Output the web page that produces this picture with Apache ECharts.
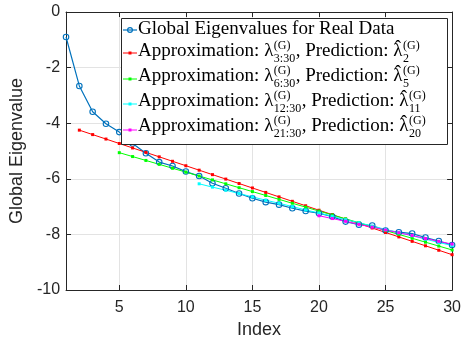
<!DOCTYPE html>
<html>
<head>
<meta charset="utf-8">
<script src="https://cdn.jsdelivr.net/npm/echarts@6/dist/echarts.min.js"></script>
<style>
  html, body { margin: 0; padding: 0; background: #fff; }
  #chart { width: 464px; height: 346px; }
</style>
</head>
<body>
<div id="chart"></div>
<script>
// data
const indexAll = [1, 2, 3, 4, 5, 6, 7, 8, 9, 10, 11, 12, 13, 14, 15, 16, 17, 18, 19, 20,
  21, 22, 23, 24, 25, 26, 27, 28, 29, 30];
const globalEig = [-0.90, -2.66, -3.59, -4.02, -4.32, -4.73, -5.08, -5.40, -5.54, -5.74,
  -5.90, -6.16, -6.34, -6.53, -6.70, -6.84, -6.93, -7.06, -7.16, -7.24,
  -7.36, -7.54, -7.65, -7.68, -7.86, -7.92, -7.97, -8.11, -8.24, -8.38];
// approximation from 3:30, index 2..30
const approx2 = [-4.25, -4.41, -4.57, -4.73, -4.89, -5.05, -5.21, -5.37, -5.53, -5.69,
  -5.85, -6.01, -6.17, -6.33, -6.49, -6.65, -6.81, -6.97, -7.13, -7.29,
  -7.45, -7.61, -7.77, -7.93, -8.09, -8.25, -8.41, -8.57, -8.73];
// approximation from 6:30, index 5..30
const approx5 = [-5.06, -5.20, -5.34, -5.48, -5.62, -5.76, -5.90, -6.04, -6.18, -6.32,
  -6.46, -6.60, -6.74, -6.88, -7.02, -7.16, -7.30, -7.44, -7.58, -7.72,
  -7.86, -8.00, -8.14, -8.28, -8.42, -8.56];
// approximation from 12:30, index 11..30
const approx11 = [-6.18, -6.30, -6.41, -6.53, -6.65, -6.77, -6.88, -7.00, -7.12, -7.23,
  -7.35, -7.47, -7.58, -7.70, -7.82, -7.94, -8.05, -8.17, -8.29, -8.40];
// approximation from 21:30, index 20..30
const approx20 = [-7.33, -7.43, -7.53, -7.64, -7.74, -7.84, -7.94, -8.04, -8.15, -8.25, -8.35];

const xTicks = [5, 10, 15, 20, 25, 30];
const yTicks = [-10, -8, -6, -4, -2, 0];

const colors = ['#0072BD', '#FF0000', '#00FF00', '#00FFFF', '#FF00FF'];

// legend rows: plain text pieces and stacked sup/sub pieces
const legendRows = [
  [{ t: 'Global Eigenvalues for Real Data' }],
  [{ t: 'Approximation: λ' }, { sup: '(G)', sub: '3:30' }, { t: ', Prediction: λ', hat: true }, { sup: '(G)', sub: '2' }],
  [{ t: 'Approximation: λ' }, { sup: '(G)', sub: '6:30' }, { t: ', Prediction: λ', hat: true }, { sup: '(G)', sub: '5' }],
  [{ t: 'Approximation: λ' }, { sup: '(G)', sub: '12:30' }, { t: ', Prediction: λ', hat: true }, { sup: '(G)', sub: '11' }],
  [{ t: 'Approximation: λ' }, { sup: '(G)', sub: '21:30' }, { t: ', Prediction: λ', hat: true }, { sup: '(G)', sub: '20' }]
];

function pairs(startIdx, vals) {
  return vals.map((v, i) => [indexAll[startIdx - 1 + i], v]);
}

const serif = '"Liberation Serif", "Times New Roman", serif';
const mainSize = 19;
const scriptSize = 12;
const ctx = document.createElement('canvas').getContext('2d');
function measure(s, size) {
  ctx.font = size + 'px ' + serif;
  return ctx.measureText(s).width;
}

// legend box, drawn by hand to get the stacked sub/superscripts
function buildLegend() {
  const box = { x: 121, y: 18, w: 326, h: 126 };
  const baselines = [35, 57, 82, 107, 132];
  const iconY = [30, 53, 79, 104, 130];
  const els = [{
    type: 'rect', shape: { x: box.x + 0.5, y: box.y + 0.5, width: box.w, height: box.h },
    style: { fill: '#fff', stroke: '#262626', lineWidth: 1 }, z: 10
  }];
  legendRows.forEach((row, r) => {
    const c = colors[r];
    els.push({
      type: 'line', shape: { x1: 123, y1: iconY[r], x2: 137, y2: iconY[r] },
      style: { stroke: c, lineWidth: r === 0 ? 1.2 : 1 }, z: 11
    });
    if (r === 0) {
      els.push({ type: 'circle', shape: { cx: 130, cy: iconY[r], r: 2.4 },
        style: { fill: 'none', stroke: c, lineWidth: 1.2 }, z: 12 });
    } else {
      els.push({ type: 'rect', shape: { x: 128.5, y: iconY[r] - 1.5, width: 3, height: 3 },
        style: { fill: c }, z: 12 });
    }
    let cx = 138;
    const b = baselines[r];
    row.forEach(p => {
      if (p.t !== undefined) {
        els.push({ type: 'text', x: cx, y: b - 6, z: 12,
          style: { text: p.t, font: mainSize + 'px ' + serif, fill: '#000', verticalAlign: 'middle' } });
        const w = measure(p.t, mainSize);
        if (p.hat) {
          const lw = measure('λ', mainSize);
          els.push({ type: 'text', x: cx + w - lw / 2, y: b - 9, z: 12,
            style: { text: 'ˆ', font: mainSize + 'px ' + serif, fill: '#000', align: 'center', verticalAlign: 'middle' } });
        }
        cx += w;
      } else {
        els.push({ type: 'text', x: cx + 0.5, y: b - 11, z: 12,
          style: { text: p.sup, font: scriptSize + 'px ' + serif, fill: '#000', verticalAlign: 'middle' } });
        els.push({ type: 'text', x: cx + 0.5, y: b + 2, z: 12,
          style: { text: p.sub, font: scriptSize + 'px ' + serif, fill: '#000', verticalAlign: 'middle' } });
        cx += Math.max(measure(p.sup, scriptSize), measure(p.sub, scriptSize)) + 1;
      }
    });
  });
  return els;
}

const axisColor = '#262626';
const gridColor = '#e3e3e3';
const sans = '"Liberation Sans", Arial, sans-serif';

const chart = echarts.init(document.getElementById('chart'));

function lineSeries(name, startIdx, vals, k) {
  return {
    name: name, type: 'line', data: pairs(startIdx, vals),
    symbol: 'rect', symbolSize: 3,
    lineStyle: { color: colors[k], width: 1 }, itemStyle: { color: colors[k] }
  };
}

const option = {
  animation: false,
  backgroundColor: '#fff',
  grid: { left: 62, right: 11, top: 12, bottom: 56 },
  xAxis: [
    {
      type: 'value', min: 1, max: 30,
      name: 'Index', nameLocation: 'middle', nameGap: 30,
      nameTextStyle: { fontFamily: sans, fontSize: 18, color: axisColor },
      axisLine: { onZero: false, lineStyle: { color: axisColor, width: 1 } },
      axisTick: { inside: true, length: 5, customValues: xTicks, lineStyle: { color: axisColor } },
      axisLabel: { customValues: xTicks, fontFamily: sans, fontSize: 16, color: axisColor, margin: 10 },
      splitLine: { show: false }
    },
    {
      type: 'value', min: 1, max: 30, position: 'top',
      axisLine: { show: true, onZero: false, lineStyle: { color: axisColor, width: 1 } },
      axisTick: { inside: true, length: 5, customValues: xTicks, lineStyle: { color: axisColor } },
      axisLabel: { show: false },
      splitLine: { show: false }
    }
  ],
  yAxis: [
    {
      type: 'value', min: -10, max: 0, interval: 2,
      name: 'Global Eigenvalue', nameLocation: 'middle', nameGap: 35,
      nameTextStyle: { fontFamily: sans, fontSize: 18, color: axisColor },
      axisLine: { show: true, onZero: false, lineStyle: { color: axisColor, width: 1 } },
      axisTick: { show: true, inside: true, length: 5, lineStyle: { color: axisColor } },
      axisLabel: { fontFamily: sans, fontSize: 16, color: axisColor, margin: 6 },
      splitLine: { show: true, lineStyle: { color: gridColor, width: 1 } }
    },
    {
      type: 'value', min: -10, max: 0, interval: 2, position: 'right',
      axisLine: { show: true, onZero: false, lineStyle: { color: axisColor, width: 1 } },
      axisTick: { show: true, inside: true, length: 5, lineStyle: { color: axisColor } },
      axisLabel: { show: false },
      splitLine: { show: false }
    }
  ],
  graphic: buildLegend(),
  series: [
    {
      name: 'Global Eigenvalues for Real Data', type: 'line',
      data: pairs(1, globalEig),
      symbol: 'circle', symbolSize: 5.5,
      lineStyle: { color: colors[0], width: 1.2 },
      itemStyle: { color: 'transparent', borderColor: colors[0], borderWidth: 1.1 },
      // vertical grid lines at the x ticks
      markLine: {
        silent: true, symbol: 'none', label: { show: false }, z: 0,
        lineStyle: { color: gridColor, width: 1, type: 'solid' },
        data: xTicks.slice(0, -1).map(v => ({ xAxis: v }))
      }
    },
    lineSeries('approx2', 2, approx2, 1),
    lineSeries('approx5', 5, approx5, 2),
    lineSeries('approx11', 11, approx11, 3),
    lineSeries('approx20', 20, approx20, 4)
  ]
};

chart.setOption(option);
</script>
</body>
</html>
